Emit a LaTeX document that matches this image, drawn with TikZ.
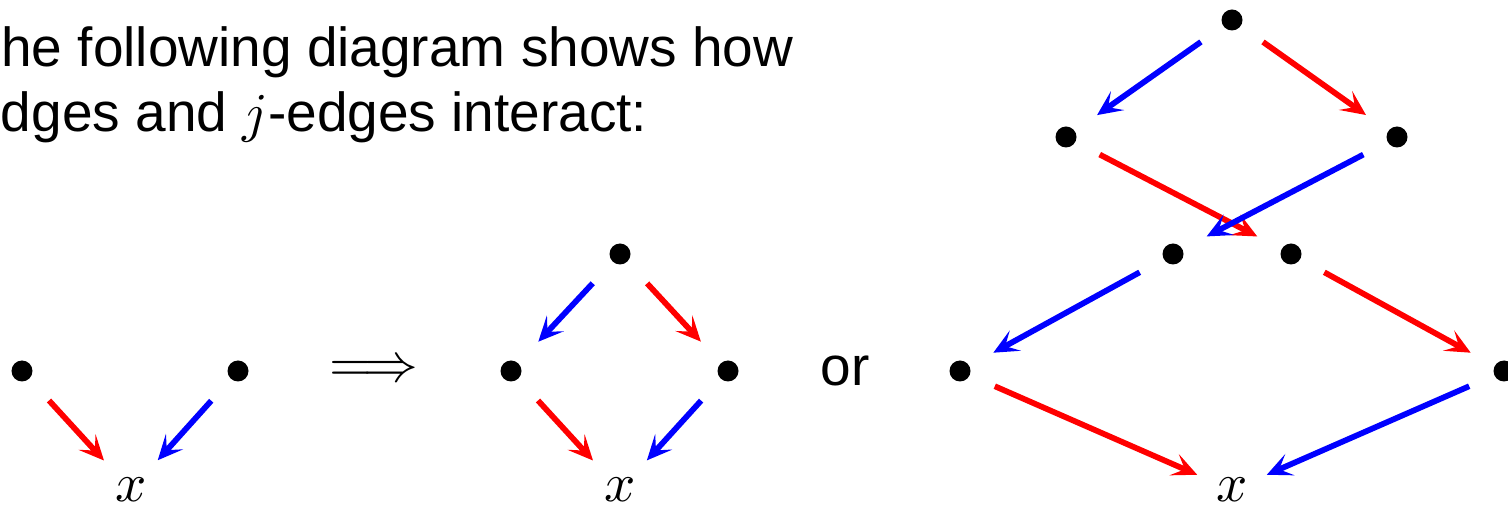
\documentclass[tikz,border=0pt]{standalone}
\usepackage{fontspec}
\setmainfont{Liberation Sans}
\usetikzlibrary{arrows.meta}
\begin{document}
\begin{tikzpicture}[x=0.2pt,y=-0.2pt,
  dot/.style={circle,fill=black,inner sep=0pt,minimum size=4.2pt},
  lab/.style={inner sep=0pt,font=\fontsize{11}{13}\selectfont},
  txt/.style={inner sep=0pt,anchor=base west,font=\fontsize{11}{13}\selectfont},
  ar/.style={line width=1.15pt,-{Stealth[length=5pt,width=4.6pt,inset=2.3pt]},shorten <=8pt,shorten >=8pt},
  arl/.style={ar,shorten <=7.6pt,shorten >=7.6pt},
  re/.style={red}, bl/.style={blue}]
\useasboundingbox (0,0) rectangle (1508,505);
% text
\node[txt] (t1) at (0.4,67) {\llap{T}he following diagram shows how};
\node[txt] (t2) at (0,132) {\llap{$i$-e}dges and $j$-edges interact:};
% left diagram
\node[dot] (L1) at (22,371) {};
\node[dot] (L2) at (238,371) {};
\node[lab] (Lx) at (131,490) {$x$};
\draw[ar,re] (L1.center) -- (Lx.center);
\draw[ar,bl] (L2.center) -- (Lx.center);
% implies
\node[inner sep=0pt,font=\fontsize{10.5}{12}\selectfont] (imp) at (374,371) {$\Longrightarrow$};
% middle diagram
\node[dot] (M0) at (620,254) {};
\node[dot] (M1) at (511,371) {};
\node[dot] (M2) at (728,371) {};
\node[lab] (Mx) at (620,490) {$x$};
\draw[ar,bl] (M0.center) -- (M1.center);
\draw[ar,re] (M0.center) -- (M2.center);
\draw[ar,re] (M1.center) -- (Mx.center);
\draw[ar,bl] (M2.center) -- (Mx.center);
% or
\node[lab] (or) at (845,371) {or};
% right diagram
\node[dot] (R0) at (1232,20) {};
\node[dot] (R1) at (1066,137) {};
\node[dot] (R2) at (1397,137) {};
\node[dot] (R3) at (1173,254) {};
\node[dot] (R4) at (1291,254) {};
\node[dot] (R5) at (960,371) {};
\node[dot] (R6) at (1504,371) {};
\node[lab] (Rx) at (1232,490) {$x$};
\draw[arl,bl] (R0.center) -- (R1.center);
\draw[arl,re] (R0.center) -- (R2.center);
\draw[arl,re] (R1.center) -- (R4.center);
\draw[arl,bl] (R2.center) -- (R3.center);
\draw[arl,bl] (R3.center) -- (R5.center);
\draw[arl,re] (R4.center) -- (R6.center);
\draw[arl,re] (R5.center) -- (Rx.center);
\draw[arl,bl] (R6.center) -- (Rx.center);
\end{tikzpicture}
\end{document}
